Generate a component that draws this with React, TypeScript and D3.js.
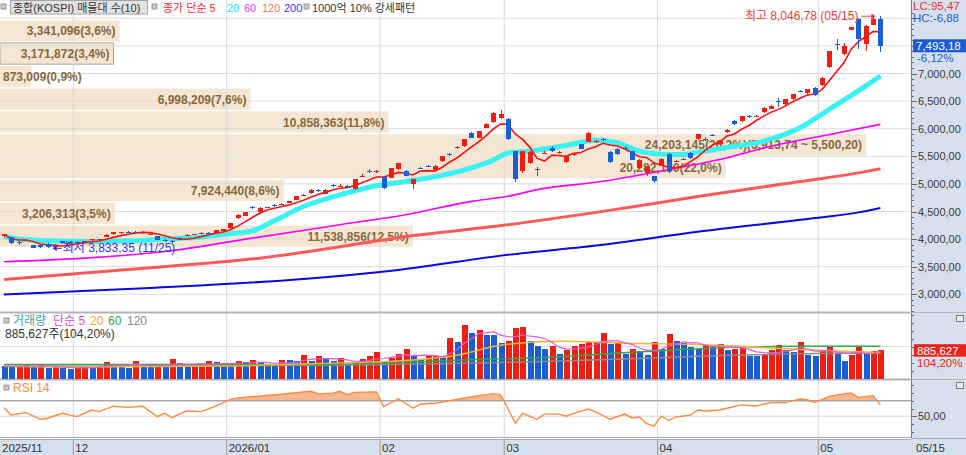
import React from "react";
import * as d3 from "d3";

// ---------------- DATA ----------------
const monthDays: [string, number[]][] = [
  ["2025/11", [17, 18, 19, 20, 21, 24, 25, 26, 27, 28]],
  ["2025/12", [1, 2, 3, 4, 5, 8, 9, 10, 11, 12, 15, 16, 17, 18, 19, 22, 23, 24, 26, 29, 30]],
  ["2026/01", [2, 5, 6, 7, 8, 9, 12, 13, 14, 15, 16, 19, 20, 21, 22, 23, 26, 27, 28, 29, 30]],
  ["2026/02", [2, 3, 4, 5, 6, 9, 10, 11, 12, 13, 19, 20, 23, 24, 25, 26, 27]],
  ["2026/03", [3, 4, 5, 6, 9, 10, 11, 12, 13, 16, 17, 18, 19, 20, 23, 24, 25, 26, 27, 30, 31]],
  ["2026/04", [1, 2, 3, 6, 7, 8, 9, 10, 13, 14, 15, 16, 17, 20, 21, 22, 23, 24, 27, 28, 29, 30]],
  ["2026/05", [4, 6, 7, 8, 11, 12, 13, 14, 15]],
];
const monthLabels = ["2025/11", "12", "2026/01", "02", "03", "04", "05"];
const lastDateLabel = "05/15";

const open = [
  4060, 4030, 3950, 3980, 3890, 3885, 3920, 3860, 3960, 3955,
  3930, 3935, 3985, 3990, 4040, 4090, 4110, 4130, 4135, 4110,
  4080, 4060, 3990, 3962, 4020, 4060, 4085, 4112, 4110, 4115,
  4140, 4200, 4380, 4424, 4575, 4500, 4568, 4610, 4635, 4660,
  4715, 4790, 4835, 4890, 4825, 4975, 4962, 4970, 4900, 5145,
  5235, 5228, 5130, 5110, 5270, 5230, 4990, 5295, 5320, 5250,
  5410, 5540, 5665, 5680, 5925, 5835, 6020, 6120, 6200, 6170,
  5590, 5230, 5370, 5265, 5560, 5655, 5570, 5390, 5530, 5715,
  5765, 5770, 5808, 5575, 5625, 5658, 5590, 5290, 5200, 5140,
  5330, 5550, 5405, 5450, 5565, 5805, 5815, 5885, 5715, 5940,
  6140, 6140, 6225, 6225, 6300, 6360, 6505, 6440, 6530, 6685,
  6640, 6745, 6790, 7110, 7535, 7350, 7790, 7985, 7530, 7880,
  7985,
];
const high = [
  4100, 4045, 3960, 4010, 3900, 3895, 3930, 3905, 3970, 3965,
  3965, 3970, 4005, 4010, 4090, 4125, 4135, 4145, 4145, 4140,
  4105, 4065, 4000, 3975, 4030, 4090, 4100, 4125, 4125, 4170,
  4190, 4300, 4450, 4495, 4600, 4575, 4590, 4640, 4660, 4695,
  4785, 4815, 4900, 4910, 4905, 4995, 4990, 4980, 5090, 5175,
  5265, 5260, 5150, 5290, 5380, 5245, 5090, 5310, 5335, 5340,
  5505, 5560, 5690, 5815, 5940, 5965, 6100, 6300, 6345, 6200,
  5600, 5600, 5590, 5300, 5600, 5680, 5600, 5510, 5555, 5730,
  5935, 5800, 5825, 5590, 5650, 5680, 5600, 5450, 5330, 5150,
  5465, 5560, 5425, 5470, 5580, 5905, 5850, 5905, 5780, 5990,
  6150, 6235, 6240, 6245, 6385, 6425, 6560, 6535, 6625, 6700,
  6720, 6755, 6930, 7415, 7620, 7560, 7845, 8000, 7880, 8030,
  8046.78,
];
const low = [
  4040, 3920, 3895, 3960, 3838, 3838, 3833.35, 3850, 3920, 3915,
  3925, 3930, 3970, 3975, 4030, 4080, 4100, 4105, 4105, 4100,
  4070, 3980, 3950, 3935, 3995, 4050, 4070, 4090, 4090, 4110,
  4130, 4190, 4370, 4410, 4540, 4490, 4555, 4585, 4615, 4650,
  4705, 4775, 4825, 4860, 4815, 4950, 4945, 4925, 4890, 5120,
  5200, 5200, 4900, 5100, 5260, 5140, 4900, 5270, 5300, 5240,
  5400, 5500, 5640, 5670, 5825, 5825, 6010, 6110, 6180, 5790,
  5040, 5200, 5360, 5150, 5540, 5585, 5550, 5380, 5510, 5625,
  5755, 5750, 5785, 5380, 5520, 5630, 5430, 5280, 5150, 5010,
  5320, 5200, 5390, 5435, 5460, 5795, 5780, 5860, 5705, 5930,
  6070, 6130, 6195, 6215, 6290, 6350, 6400, 6430, 6520, 6660,
  6630, 6600, 6780, 7100, 7420, 7340, 7780, 7450, 7410, 7870,
  7390,
];
const close = [
  4085, 3930, 3935, 3990, 3846.04, 3848, 3855, 3895, 3930, 3925,
  3955, 3960, 3995, 4000, 4080, 4120, 4120, 4122, 4115, 4130,
  4100, 3990, 3960, 3950, 4000, 4080, 4092, 4105, 4100, 4165,
  4182, 4290, 4440, 4484, 4565, 4565, 4580, 4605, 4640, 4685,
  4775, 4805, 4895, 4885, 4895, 4970, 4968, 4930, 5080, 5150,
  5230, 5232, 4930, 5280, 5370, 5150, 5080, 5290, 5310, 5330,
  5500, 5535, 5670, 5805, 5835, 5955, 6090, 6290, 6260, 5805,
  5080, 5590, 5575, 5260, 5565, 5595, 5575, 5500, 5535, 5635,
  5925, 5775, 5805, 5390, 5535, 5655, 5440, 5440, 5320, 5050,
  5455, 5230, 5410, 5455, 5470, 5895, 5800, 5880, 5775, 5985,
  6080, 6230, 6220, 6230, 6380, 6420, 6500, 6530, 6620, 6680,
  6715, 6605, 6925, 7410, 7530, 7500, 7835, 7620, 7865, 7981.66,
  7493.18,
];
const volume = [
  385000, 376000, 394000, 407000, 369000, 438000, 329000, 369000, 329000, 297000,
  344000, 376000, 329000, 385000, 510000, 429000, 407000, 335000, 563000, 366000,
  360000, 413000, 363000, 616000, 491000, 366000, 416000, 429000, 532000, 531000,
  416000, 413000, 532000, 530000, 585000, 510000, 385000, 376000, 585000, 584000,
  554000, 720000, 541000, 698000, 604000, 541000, 626000, 438000, 488000, 595000,
  698000, 832000, 519000, 657000, 782000, 908000, 698000, 573000, 701000, 704000,
  695000, 1252000, 1145000, 1668000, 1427000, 1533000, 1355000, 1352000, 1114000, 1177000,
  1565000, 1596000, 1177000, 1011000, 908000, 1020000, 782000, 886000, 1020000, 1095000,
  1127000, 1145000, 1427000, 1095000, 1145000, 760000, 908000, 864000, 729000, 1148000,
  908000, 1399000, 1167000, 1117000, 980000, 929000, 1033000, 980000, 1095000, 886000,
  929000, 948000, 698000, 695000, 782000, 886000, 1033000, 885000, 836000, 1136000,
  729000, 698000, 886000, 1011000, 804000, 563000, 751000, 1011000, 773000, 849930,
  885627,
];

// moving averages: [bar index, value]
const ma20Pts: [number, number][] = [
  [0, 4047], [2, 4000], [6, 3969], [11, 3956], [18, 3969], [22, 4000], [27, 4036], [31, 4096],
  [34, 4150], [37, 4330], [41, 4590], [46, 4800], [50, 4940], [55, 5045], [60, 5155], [64, 5290],
  [67, 5430], [69, 5560], [72, 5593], [77, 5696], [81, 5790], [84, 5745], [86, 5640], [88, 5564],
  [91, 5533], [93, 5533], [95, 5575], [99, 5660], [104, 5775], [109, 6018], [113, 6351], [118, 6775],
  [120, 6956],
];
const ma60Pts: [number, number][] = [
  [0, 3590], [11, 3655], [22, 3775], [34, 4018], [46, 4260], [55, 4442], [64, 4684], [69, 4775],
  [73, 4896], [82, 5047], [91, 5260], [99, 5473], [104, 5650], [113, 5896], [120, 6078],
];
const ma120Pts: [number, number][] = [
  [0, 3270], [17, 3450], [35, 3655], [57, 4078], [69, 4260], [82, 4502], [95, 4771], [109, 5042],
  [117, 5200], [120, 5273],
];
const ma200Pts: [number, number][] = [
  [0, 2996], [20, 3115], [41, 3278], [54, 3442], [69, 3715], [82, 3896], [95, 4133], [109, 4351],
  [117, 4484], [120, 4564],
];
const vma20Pts: [number, number][] = [
  [0, 391000], [10, 360000], [30, 391000], [43, 469000], [55, 563000], [62, 729000], [68, 1042000],
  [76, 1167000], [87, 1095000], [95, 1064000], [109, 908000], [120, 814000],
];
const vma60Pts: [number, number][] = [
  [0, 438000], [10, 438000], [43, 438000], [62, 573000], [76, 679000], [87, 836000], [95, 929000],
  [109, 1011000], [120, 1011000],
];
const vma120Pts: [number, number][] = [
  [0, 376000], [43, 416000], [87, 626000], [95, 698000], [120, 804000],
];
const rsiPts: [number, number][] = [
  [0, 61], [1, 51.7], [3, 54.6], [5, 46], [6, 47.4], [8, 53.8], [10, 49.5], [12, 58], [13, 56],
  [15, 63], [17, 61.5], [19, 63], [21, 49.5], [22, 54], [23, 48], [25, 56.8], [27, 56], [29, 63],
  [31, 71.8], [32, 73.8], [35, 76], [38, 78.6], [42, 82.4], [43, 79], [45, 80], [46, 82.4], [47, 78],
  [48, 81], [51, 81.6], [52, 62.4], [54, 72.7], [56, 60.3], [57, 65.6], [59, 66.9], [61, 70],
  [63, 73.6], [65, 76.7], [67, 79.3], [68, 78], [69, 60], [70, 41], [71, 53.6], [73, 46], [74, 52.7],
  [76, 52.7], [77, 50], [78, 53.6], [80, 59.3], [81, 55.7], [83, 46], [85, 52.7], [86, 47.7],
  [87, 49], [88, 40.2], [89, 37], [90, 50], [91, 44.7], [92, 49], [94, 51.3], [95, 58], [96, 56.7],
  [98, 58], [99, 60.3], [101, 64.7], [103, 63.3], [105, 67.7], [107, 67.7], [109, 72.3], [110, 71.3],
  [111, 67.7], [113, 75.7], [115, 79], [116, 80.3], [117, 74.3], [119, 76.7], [120, 64.7],
];

// volume profile (매물대), top band to bottom band
const profileVols = [3341096, 3171872, 873009, 6998209, 10858363, 24203145, 20282180, 7924440, 3206313, 11538856];
const profilePct = ["3,6", "3,4", "0,9", "7,6", "11,8", "26,2", "22,0", "8,6", "3,5", "12,5"];
const profileMaxRange = "(5,913,74 ~ 5,500,20)";

const priceTicks = d3.range(3000, 8001, 500);
const labelLC = "LC:95,47";
const labelHC = "HC:-6,88";
const labelChg = "-6,12%";
const labelVolRatio = "104,20%";

// ---------------- HELPERS ----------------
const dates: string[] = monthDays.flatMap(([m, ds]) => ds.map((d) => `${m}/${String(d).padStart(2, "0")}`));
const monthStart: number[] = [];
{
  let k = 0;
  monthDays.forEach(([, ds]) => {
    monthStart.push(k);
    k += ds.length;
  });
}
const kfmt = (v: number, digits = 2) => d3.format(`,.${digits}f`)(v).replace(".", "#").replace(/#/, ",");

const FONT = "'Liberation Sans', 'Noto Sans CJK KR', sans-serif";
const RED = "#ee1f12";
const BLUE = "#1a5fd2";
const AXIS_BG = "#d6e0ec";

export default function App() {
  const n = dates.length;
  const PR = 911; // plot right edge
  const x = d3.scaleBand<string>().domain(dates).range([0.26, 0.26 + n * 7.304]);
  const bw = x.bandwidth();
  const cx = (i: number) => (x(dates[i]) as number) + bw / 2;

  const yP = d3.scaleLinear().domain([3000, 8000]).range([294.3, 18.3]);
  const yV = d3.scaleLinear().domain([0, 2000000]).range([378.5, 378.5 - 2000000 / 31294]);
  const yR = d3.scaleLinear().domain([50, 70]).range([416.2, 400.8]);

  const ma5 = close.map((_, i) => d3.mean(close.slice(Math.max(0, i - 4), i + 1)) as number);
  const vma5 = volume.map((_, i) => d3.mean(volume.slice(Math.max(0, i - 4), i + 1)) as number);

  const linePts = (ys: (v: number) => number, curve = d3.curveMonotoneX) =>
    d3.line<[number, number]>().x((d) => cx(d[0])).y((d) => ys(d[1])).curve(curve);
  const lineArr = (ys: (v: number) => number) =>
    d3.line<number>().x((_, i) => cx(i)).y((d) => ys(d));

  // volume profile
  const minC = d3.min(close) as number;
  const maxC = d3.max(close) as number;
  const step = (maxC - minC) / profileVols.length;
  const maxIdx = profileVols.indexOf(d3.max(profileVols) as number);
  const pw = d3.scaleLinear().domain([0, d3.max(profileVols) as number]).range([0, 866]);
  const curIdx = profileVols.findIndex((_, k) => {
    const hi = maxC - k * step;
    const lo = hi - step;
    return close[n - 1] <= hi && close[n - 1] > lo;
  });

  const hiIdx = high.indexOf(d3.max(high) as number);
  const loIdx = low.indexOf(d3.min(low) as number);
  const fmtMD = (s: string) => s.slice(5);

  const rsiArea = d3
    .area<[number, number]>()
    .x((d) => cx(d[0]))
    .y0(yR(70))
    .y1((d) => yR(d[1]));

  const priceMinor = d3.range(2700, 8101, 100);
  const volMinor = d3.range(0, 2000001, 250000);
  const rsiMinor = d3.range(30, 100, 10);

  const lastVol = volume[n - 1];

  return (
    <div style={{ position: "absolute", left: 0, top: 0, width: 966, height: 455 }}>
      <svg width={966} height={455} style={{ display: "block", fontFamily: FONT }}>
        <defs>
          <clipPath id="plotClip">
            <rect x={0} y={0} width={PR} height={312} />
          </clipPath>
          <clipPath id="rsiAbove">
            <rect x={0} y={380} width={PR} height={yR(70) - 380} />
          </clipPath>
        </defs>
        <rect x={0} y={0} width={966} height={455} fill="#ffffff" />

        {/* volume profile bands */}
        {profileVols.map((v, k) => {
          const hi = maxC - k * step;
          const lo = hi - step;
          const y0 = yP(hi);
          const y1 = yP(lo);
          return (
            <rect
              key={"pb" + k}
              x={0}
              y={y0 + 0.8}
              width={pw(v)}
              height={y1 - y0 - 1.6}
              fill="#f4e6d2"
              stroke={k === curIdx ? "#a9a9a9" : "none"}
              strokeWidth={1}
            />
          );
        })}

        {/* grid */}
        {priceTicks.map((p) => (
          <line key={"hg" + p} x1={0} x2={PR} y1={yP(p)} y2={yP(p)} stroke="#dcdcdc" strokeWidth={1} />
        ))}
        {monthStart.slice(1).map((i) => (
          <line
            key={"vg" + i}
            x1={(x(dates[i]) as number)}
            x2={(x(dates[i]) as number)}
            y1={0}
            y2={438}
            stroke="#d9d9d9"
            strokeWidth={1}
          />
        ))}

        {/* profile labels */}
        {profileVols.map((v, k) => {
          const hi = maxC - k * step;
          const lo = hi - step;
          const ym = (yP(hi) + yP(lo)) / 2;
          const w = pw(v);
          const txt = `${d3.format(",")(v)}(${profilePct[k]}%)` + (k === maxIdx ? profileMaxRange : "");
          const inside = w > 100;
          return (
            <text
              key={"pl" + k}
              x={inside ? w - 4 : 3}
              y={ym + 4.5}
              textAnchor={inside ? "end" : "start"}
              fontSize={12}
              fontWeight="bold"
              fill="#86683c"
            >
              {txt}
            </text>
          );
        })}

        {/* moving averages */}
        <g clipPath="url(#plotClip)" fill="none">
          <path d={linePts(yP)(ma200Pts) as string} stroke="#0a0ae0" strokeWidth={2} />
          <path d={linePts(yP)(ma120Pts) as string} stroke="#ff5a5a" strokeWidth={3} />
          <path d={linePts(yP)(ma60Pts) as string} stroke="#ff00ff" strokeWidth={1.6} />
          <path d={linePts(yP)(ma20Pts) as string} stroke="#3af2f2" strokeWidth={5} />
          <path d={lineArr(yP)(ma5) as string} stroke="#ff1010" strokeWidth={1.6} />
        </g>

        {/* candles */}
        <g shapeRendering="crispEdges">
          {close.map((c, i) => {
            const o = open[i];
            const up = c >= o;
            const col = up ? RED : BLUE;
            const xc = Math.round(cx(i)) + 0.5;
            const yt = yP(Math.max(o, c));
            const yb = yP(Math.min(o, c));
            return (
              <g key={"c" + i}>
                <line x1={xc} x2={xc} y1={yP(high[i])} y2={yP(low[i])} stroke={col} strokeWidth={1} />
                <rect x={xc - 2.5} y={yt} width={5} height={Math.max(1, yb - yt)} fill={col} />
              </g>
            );
          })}
        </g>

        {/* high / low annotations */}
        <g fontSize={12}>
          <text x={cx(hiIdx) - 22} y={yP(high[hiIdx]) + 4} textAnchor="end" fill="#f03c3c">
            {`최고 ${kfmt(high[hiIdx])} (${fmtMD(dates[hiIdx])})`}
          </text>
          <line x1={cx(hiIdx) - 19} x2={cx(hiIdx) - 6} y1={yP(high[hiIdx]) + 0.5} y2={yP(high[hiIdx]) + 0.5} stroke="#f03c3c" />
          <path
            d={`M${cx(hiIdx) - 5},${yP(high[hiIdx]) + 0.5} l-4,-3 l0,6 z`}
            fill="#f03c3c"
          />
          <line x1={cx(loIdx) + 6} x2={cx(loIdx) + 14} y1={yP(low[loIdx])} y2={yP(low[loIdx])} stroke="#2b2bf0" />
          <path d={`M${cx(loIdx) + 5},${yP(low[loIdx])} l4,-3 l0,6 z`} fill="#2b2bf0" />
          <text x={cx(loIdx) + 15} y={yP(low[loIdx]) + 4} fill="#3030f0">
            {`최저 ${kfmt(low[loIdx])} (${fmtMD(dates[loIdx])})`}
          </text>
        </g>

        {/* top legend */}
        <g fontSize={11}>
          <rect x={1} y={4} width={5} height={5} fill="#c8c8c8" stroke="#888" strokeWidth={0.8} />
          <rect x={10.5} y={0.5} width={137} height={13.5} fill="#e2e2e2" stroke="#a4a4a4" />
          <text x={13} y={11.5} fill="#333">종합(KOSPI) 매물대 수(10)</text>
          <rect x={152} y={4} width={5} height={5} fill="#c8c8c8" stroke="#888" strokeWidth={0.8} />
          <text x={163} y={11.5} fill="#ff2a2a">종가 단순 5</text>
          <text x={227} y={11.5} fill="#22e6e6">20</text>
          <text x={244} y={11.5} fill="#ff30ff">60</text>
          <text x={262} y={11.5} fill="#ff7070">120</text>
          <text x={284} y={11.5} fill="#3434ff">200</text>
          <rect x={304} y={4} width={5} height={5} fill="#c8c8c8" stroke="#888" strokeWidth={0.8} />
          <text x={312} y={11.5} fill="#333">1000억 10% 강세패턴</text>
        </g>

        {/* panel separators */}
        <line x1={0} x2={PR} y1={312.5} y2={312.5} stroke="#b4b4b4" strokeWidth={2} />
        <line x1={0} x2={PR} y1={379.5} y2={379.5} stroke="#b4b4b4" strokeWidth={2} />

        {/* volume panel */}
        <line x1={0} x2={PR} y1={yV(1000000)} y2={yV(1000000)} stroke="#dcdcdc" />
        <g shapeRendering="crispEdges">
          {volume.map((v, i) => {
            const up = i > 0 && v > volume[i - 1];
            return (
              <rect
                key={"v" + i}
                x={Math.round(cx(i)) - 2.5}
                y={yV(v)}
                width={6.2}
                height={yV(0) - yV(v)}
                fill={up ? RED : BLUE}
              />
            );
          })}
        </g>
        <g fill="none">
          <path d={linePts(yV)(vma120Pts) as string} stroke="#8c8c8c" strokeWidth={1.4} />
          <path d={linePts(yV)(vma60Pts) as string} stroke="#2ea84a" strokeWidth={1.4} />
          <path d={linePts(yV)(vma20Pts) as string} stroke="#f5b335" strokeWidth={1.4} />
          <path d={lineArr(yV)(vma5) as string} stroke="#e65ad8" strokeWidth={1.2} />
        </g>
        <g fontSize={12}>
          <rect x={4} y={318} width={5} height={5} fill="#c8c8c8" stroke="#888" strokeWidth={0.8} />
          <text x={13} y={325} fill="#3aa3a3">거래량</text>
          <text x={53} y={325} fill="#e04ad0">단순 5</text>
          <text x={90} y={325} fill="#f5a623">20</text>
          <text x={108} y={325} fill="#2ea84a">60</text>
          <text x={127} y={325} fill="#8c8c8c">120</text>
          <text x={5} y={337.5} fill="#333">{`${d3.format(",")(lastVol)}주(${labelVolRatio})`}</text>
        </g>

        {/* RSI panel */}
        <line x1={0} x2={PR} y1={yR(50)} y2={yR(50)} stroke="#d6d6d6" />
        <g clipPath="url(#rsiAbove)">
          <path d={rsiArea(rsiPts) as string} fill="#f6b892" />
        </g>
        <line x1={0} x2={PR} y1={yR(70)} y2={yR(70)} stroke="#a8a8a8" strokeWidth={1.6} />
        <path d={linePts(yR, d3.curveLinear)(rsiPts) as string} fill="none" stroke="#ff8a3c" strokeWidth={1.4} />
        <g fontSize={12}>
          <rect x={4} y={385} width={5} height={5} fill="#c8c8c8" stroke="#888" strokeWidth={0.8} />
          <text x={13} y={392} fill="#ff8a3c">RSI 14</text>
        </g>

        {/* bottom axis */}
        <line x1={0} x2={PR} y1={437.5} y2={437.5} stroke="#a8a8a8" />
        <rect x={0} y={439} width={PR} height={16} fill={AXIS_BG} />
        <line x1={0} x2={PR} y1={439.5} y2={439.5} stroke="#a8a8a8" />
        {monthStart.map((i, k) => (
          <g key={"mx" + k}>
            {k > 0 && (
              <line x1={x(dates[i]) as number} x2={x(dates[i]) as number} y1={439} y2={455} stroke="#9c9c9c" />
            )}
            <text x={(k > 0 ? (x(dates[i]) as number) : 0) + 2} y={451.5} fontSize={11.5} fill="#333">
              {monthLabels[k]}
            </text>
          </g>
        ))}

        {/* right axis */}
        <rect x={PR} y={0} width={966 - PR} height={455} fill={AXIS_BG} />
        <line x1={PR + 0.5} x2={PR + 0.5} y1={0} y2={438} stroke="#7c7c7c" />
        <line x1={PR} x2={966} y1={312.5} y2={312.5} stroke="#b4b4b4" strokeWidth={1} />
        <line x1={PR} x2={966} y1={379.5} y2={379.5} stroke="#b4b4b4" strokeWidth={1} />
        <line x1={PR} x2={966} y1={438.5} y2={438.5} stroke="#a8a8a8" />
        <g stroke="#666" shapeRendering="crispEdges">
          {priceMinor
            .filter((p) => yP(p) > 1 && yP(p) < 311)
            .map((p) => (
              <line key={"pt" + p} x1={PR + 1} x2={PR + (p % 500 === 0 ? 6 : 3)} y1={Math.round(yP(p)) + 0.5} y2={Math.round(yP(p)) + 0.5} />
            ))}
          {volMinor
            .filter((v) => yV(v) > 314 && yV(v) < 378)
            .map((v) => (
              <line key={"vt" + v} x1={PR + 1} x2={PR + (v === 1000000 ? 6 : 3)} y1={Math.round(yV(v)) + 0.5} y2={Math.round(yV(v)) + 0.5} />
            ))}
          {rsiMinor
            .filter((r) => yR(r) > 381 && yR(r) < 437)
            .map((r) => (
              <line key={"rt" + r} x1={PR + 1} x2={PR + (r === 50 ? 6 : 3)} y1={Math.round(yR(r)) + 0.5} y2={Math.round(yR(r)) + 0.5} />
            ))}
        </g>
        <g fontSize={11} fill="#3a3a3a">
          {priceTicks
            .filter((p) => p <= 7000)
            .map((p) => (
              <text key={"pl" + p} x={PR + 7} y={yP(p) + 4}>
                {kfmt(p)}
              </text>
            ))}
          <text x={PR + 7} y={yR(50) + 4}>{kfmt(50)}</text>
        </g>
        {/* current price box */}
        <rect x={PR + 2} y={yP(close[n - 1]) - 7} width={966 - PR - 2} height={13} fill="#1c5cd2" />
        <text x={PR + 5} y={yP(close[n - 1]) + 4} fontSize={11.5} fill="#ffffff">
          {kfmt(close[n - 1])}
        </text>
        <text x={PR + 6} y={yP(close[n - 1]) + 16} fontSize={11.5} fill="#2458d6">
          {labelChg}
        </text>
        <text x={PR + 2} y={10} fontSize={11.5} fill="#e83434">{labelLC}</text>
        <text x={PR + 2} y={21.5} fontSize={11.5} fill="#2458d6">{labelHC}</text>
        {/* volume box */}
        <rect x={PR + 3} y={yV(lastVol) - 6} width={966 - PR - 3} height={12.5} fill="#e8231b" />
        <text x={PR + 6} y={yV(lastVol) + 4.5} fontSize={11.5} fill="#ffffff">
          {d3.format(",")(lastVol)}
        </text>
        <text x={PR + 6} y={yV(lastVol) + 16.5} fontSize={11.5} fill="#e8231b">
          {labelVolRatio}
        </text>
        {/* small panel icons */}
        <rect x={956.5} y={315.5} width={7} height={6} fill="#eeeeee" stroke="#7a7a7a" />
        <rect x={956.5} y={382.5} width={7} height={6} fill="#eeeeee" stroke="#7a7a7a" />
        <text x={PR + 5} y={451.5} fontSize={11.5} fill="#333">
          {lastDateLabel}
        </text>
      </svg>
    </div>
  );
}
